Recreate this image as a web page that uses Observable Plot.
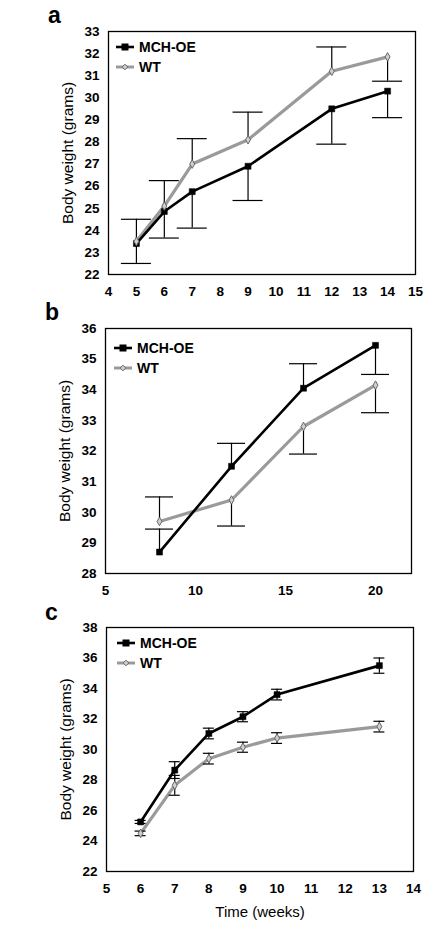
<!DOCTYPE html>
<html>
<head>
<meta charset="utf-8">
<script src="https://cdn.jsdelivr.net/npm/d3@7"></script>
<script src="https://cdn.jsdelivr.net/npm/@observablehq/plot@0.6"></script>
<style>
  html, body { margin: 0; padding: 0; background: #fff; }
  #root { position: relative; width: 443px; height: 935px; font-family: "Liberation Sans", Arial, sans-serif; }
  .panel { position: absolute; left: 0; }
  .letter { position: absolute; font-family: "Liberation Sans", Arial, sans-serif; font-weight: bold; font-size: 23px; line-height: 1; }
  .legend { position: absolute; font-weight: bold; font-size: 14px; line-height: 20px; }
  .legend .row { display: flex; align-items: center; height: 20px; }
  .legend svg { margin-right: 5px; }
</style>
</head>
<body>
<div id="root"></div>
<script>
// ---------- Panel a ----------
const weeksA = [5, 6, 7, 9, 12, 14];
const mchA = [23.4, 24.85, 25.75, 26.9, 29.5, 30.3];
const mchAErrEnd = [22.5, 23.65, 24.1, 25.35, 27.9, 29.1];
const wtA = [23.5, 25.1, 27.0, 28.1, 31.2, 31.85];
const wtAErrEnd = [24.5, 26.25, 28.15, 29.35, 32.3, 30.75];
const xTicksA = [4, 5, 6, 7, 8, 9, 10, 11, 12, 13, 14, 15];
const yTicksA = [22, 23, 24, 25, 26, 27, 28, 29, 30, 31, 32, 33];

// ---------- Panel b ----------
const weeksB = [8, 12, 16, 20];
const mchB = [28.7, 31.5, 34.05, 35.45];
const mchBErrEnd = [29.45, 32.25, 34.85, 34.5];
const wtB = [29.7, 30.4, 32.8, 34.15];
const wtBErrEnd = [30.5, 29.55, 31.9, 33.25];
const xTicksB = [5, 10, 15, 20];
const yTicksB = [28, 29, 30, 31, 32, 33, 34, 35, 36];

// ---------- Panel c (symmetric SEM) ----------
const weeksC = [6, 7, 8, 9, 10, 13];
const mchC = [25.25, 28.65, 31.05, 32.15, 33.6, 35.5];
const mchCSem = [0.1, 0.55, 0.35, 0.33, 0.35, 0.5];
const wtC = [24.5, 27.65, 29.4, 30.15, 30.75, 31.5];
const wtCSem = [0.15, 0.65, 0.35, 0.33, 0.35, 0.35];
const xTicksC = [5, 6, 7, 8, 9, 10, 11, 12, 13, 14];
const yTicksC = [22, 24, 26, 28, 30, 32, 34, 36, 38];

const seriesNames = ["MCH-OE", "WT"];
const yTitle = "Body weight (grams)";
const xTitle = "Time (weeks)";
const letters = ["a", "b", "c"];

const FONT = "'Liberation Sans', Arial, sans-serif";
const BLACK = "#000";
const GRAY = "#9a9a9a";

function oneSided(weeks, vals, ends, series) {
  const pts = weeks.map((x, i) => ({x, y: vals[i], series}));
  const bars = weeks.map((x, i) => ({x, lo: Math.min(vals[i], ends[i]), hi: Math.max(vals[i], ends[i])}));
  const caps = weeks.map((x, i) => ({x, y: ends[i]}));
  return {pts, bars, caps};
}
function twoSided(weeks, vals, sem, series) {
  const pts = weeks.map((x, i) => ({x, y: vals[i], series}));
  const bars = weeks.map((x, i) => ({x, lo: vals[i] - sem[i], hi: vals[i] + sem[i]}));
  const caps = weeks.flatMap((x, i) => [{x, y: vals[i] - sem[i]}, {x, y: vals[i] + sem[i]}]);
  return {pts, bars, caps};
}

function makePanel(cfg) {
  const {mch, wt, xDomain, yDomain, xTicks, yTicks, height, marginTop, marginBottom, marginLeft, marginRight, capPx, showXTitle} = cfg;
  const width = 443;
  const plotW = width - marginLeft - marginRight;
  const half = (capPx / 2) * (xDomain[1] - xDomain[0]) / plotW;
  const capX1 = d => d.x - half, capX2 = d => d.x + half;
  const marks = [
    Plot.frame({stroke: BLACK, strokeWidth: 1.3}),
    Plot.line(wt.pts, {x: "x", y: "y", stroke: GRAY, strokeWidth: 3.2}),
    Plot.line(mch.pts, {x: "x", y: "y", stroke: BLACK, strokeWidth: 2.6}),
    Plot.ruleX(wt.bars, {x: "x", y1: "lo", y2: "hi", stroke: BLACK, strokeWidth: 1.2}),
    Plot.ruleX(mch.bars, {x: "x", y1: "lo", y2: "hi", stroke: BLACK, strokeWidth: 1.2}),
    Plot.ruleY(wt.caps, {y: "y", x1: capX1, x2: capX2, stroke: BLACK, strokeWidth: 1.2}),
    Plot.ruleY(mch.caps, {y: "y", x1: capX1, x2: capX2, stroke: BLACK, strokeWidth: 1.2}),
    Plot.dot(mch.pts, {x: "x", y: "y", symbol: "square", r: 3.4, fill: BLACK, stroke: BLACK, strokeWidth: 0.5}),
    Plot.dot(wt.pts, {x: "x", y: "y", symbol: "diamond", r: 2.6, fill: "#cfcfcf", stroke: "#666", strokeWidth: 1}),
    Plot.axisX(xTicks, {tickSize: 0, tickPadding: 12, label: null}),
    Plot.axisY(yTicks, {tickSize: 0, tickPadding: 9, label: null}),
    Plot.text([yTitle], {text: d => d, frameAnchor: "left", dx: -40, rotate: -90, fontSize: 15.5, fontWeight: "normal", fill: BLACK, textAnchor: "middle", lineAnchor: "middle"})
  ];
  if (showXTitle) {
    marks.push(Plot.text([xTitle], {text: d => d, frameAnchor: "bottom", dy: 41, fontSize: 15, fontWeight: "normal", fill: BLACK, textAnchor: "middle", lineAnchor: "middle"}));
  }
  return Plot.plot({
    width, height, marginTop, marginBottom, marginLeft, marginRight,
    style: {fontFamily: FONT, fontSize: "13.5px", fontWeight: "bold", background: "white", color: BLACK, overflow: "visible"},
    x: {domain: xDomain},
    y: {domain: yDomain},
    marks
  });
}

const root = document.getElementById("root");

function legendSwatch(kind) {
  const ns = "http://www.w3.org/2000/svg";
  const s = document.createElementNS(ns, "svg");
  s.setAttribute("width", "18"); s.setAttribute("height", "10");
  if (kind === 0) {
    s.innerHTML = '<line x1="0" y1="5" x2="18" y2="5" stroke="#000" stroke-width="2.6"/><rect x="5.5" y="1.5" width="7" height="7" fill="#000"/>';
  } else {
    s.innerHTML = '<line x1="0" y1="5" x2="18" y2="5" stroke="#9a9a9a" stroke-width="3"/><path d="M9,2.2 L11.8,5 L9,7.8 L6.2,5 Z" fill="#cfcfcf" stroke="#666" stroke-width="1"/>';
  }
  return s;
}

function addPanel(top, svg, letter, letterPos, legendPos) {
  const wrap = document.createElement("div");
  wrap.className = "panel";
  wrap.style.top = top + "px";
  wrap.appendChild(svg);
  root.appendChild(wrap);
  const l = document.createElement("div");
  l.className = "letter";
  l.textContent = letter;
  l.style.left = letterPos[0] + "px"; l.style.top = letterPos[1] + "px";
  root.appendChild(l);
  const lg = document.createElement("div");
  lg.className = "legend";
  lg.style.left = legendPos[0] + "px"; lg.style.top = legendPos[1] + "px";
  seriesNames.forEach((name, i) => {
    const row = document.createElement("div");
    row.className = "row";
    row.appendChild(legendSwatch(i));
    const t = document.createElement("span");
    t.textContent = name;
    row.appendChild(t);
    lg.appendChild(row);
  });
  root.appendChild(lg);
}

const panelA = makePanel({
  mch: oneSided(weeksA, mchA, mchAErrEnd, seriesNames[0]),
  wt: oneSided(weeksA, wtA, wtAErrEnd, seriesNames[1]),
  xDomain: [4, 15], yDomain: [22, 33], xTicks: xTicksA, yTicks: yTicksA,
  height: 300, marginTop: 31, marginBottom: 26, marginLeft: 108, marginRight: 28, capPx: 30
});
addPanel(0, panelA, letters[0], [48, 4], [116, 37]);

const panelB = makePanel({
  mch: oneSided(weeksB, mchB, mchBErrEnd, seriesNames[0]),
  wt: oneSided(weeksB, wtB, wtBErrEnd, seriesNames[1]),
  xDomain: [5, 22], yDomain: [28, 36], xTicks: xTicksB, yTicks: yTicksB,
  height: 300, marginTop: 28, marginBottom: 27, marginLeft: 105, marginRight: 32, capPx: 28
});
addPanel(300, panelB, letters[1], [45, 301], [114, 338]);

const panelC = makePanel({
  mch: twoSided(weeksC, mchC, mchCSem, seriesNames[0]),
  wt: twoSided(weeksC, wtC, wtCSem, seriesNames[1]),
  xDomain: [5, 14], yDomain: [22, 38], xTicks: xTicksC, yTicks: yTicksC,
  height: 335, marginTop: 27, marginBottom: 64, marginLeft: 106, marginRight: 30, capPx: 11, showXTitle: true
});
addPanel(600, panelC, letters[2], [45, 601], [117, 633]);
</script>
</body>
</html>
